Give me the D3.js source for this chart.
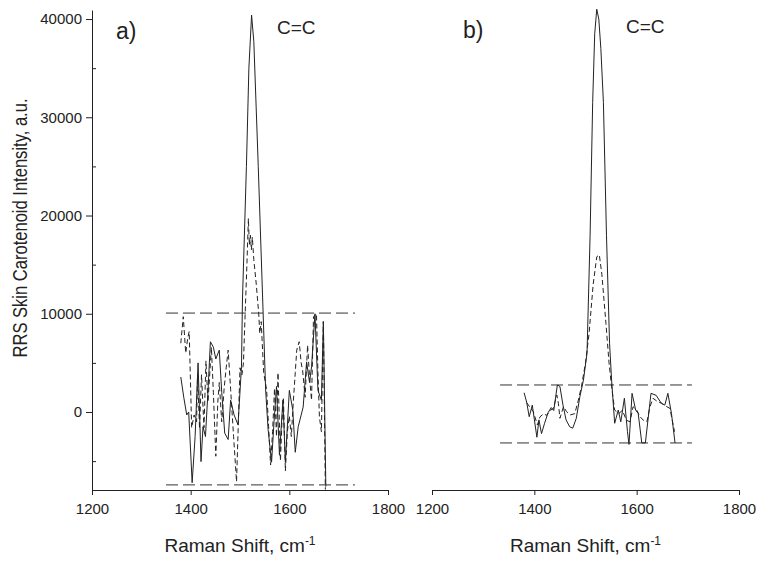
<!DOCTYPE html>
<html><head><meta charset="utf-8">
<script src="https://cdn.jsdelivr.net/npm/d3@7"></script>
<style>body{margin:0;background:#fff}svg{display:block}text{font-family:"Liberation Sans",Arial,sans-serif;fill:#222}</style>
</head><body><svg id="c" width="764" height="564"></svg>
<script>
// ---- data (Raman shift cm-1, intensity a.u.) ----
const xTicks = [1200, 1400, 1600, 1800];
const yTicks = [0, 10000, 20000, 30000, 40000];
const yMinorTicks = [-5000, 5000, 15000, 25000, 35000];
const panelLabels = ["a)", "b)"];
const peakLabel = "C=C";

const aSolid = [[1380,3560],[1386,1500],[1392,-300],[1396,0],[1403,-7200],[1409,-2500],[1415,5000],[1421,-5050],[1425,-1490],[1430,-2500],[1435,2000],[1440,7150],[1446,6600],[1451,5400],[1458,6300],[1463,2000],[1469,-2150],[1476,-2800],[1481,1200],[1488,-300],[1496,-1300],[1503,4600],[1505,11400],[1513,25000],[1518,35000],[1523.5,40400],[1528,37700],[1537,25000],[1546,11400],[1552,2240],[1557,-1800],[1564,-5100],[1569,-1000],[1574,2600],[1580,-4400],[1587,1200],[1592,-5100],[1600,2200],[1607,200],[1612,-4100],[1618,-1500],[1628,500],[1635,5100],[1641,3000],[1645,4600],[1652,10000],[1658,2200],[1665,1200],[1669,9200],[1674,-7600]];
const aDashed = [[1380,7000],[1385,9700],[1390,6000],[1394,7500],[1397,8200],[1402,-1600],[1407,-300],[1412,-1000],[1414,3800],[1418,-1700],[1422,3800],[1427,-1600],[1431,5200],[1435,1000],[1437,2500],[1442,6600],[1446,2000],[1451,-4500],[1455,1000],[1458,3000],[1463,-1000],[1468,2500],[1472,4500],[1476,6300],[1481,2300],[1487,-2500],[1493,-7100],[1500,4500],[1504,3800],[1507,5000],[1510,9350],[1514,15000],[1517,19700],[1519,17000],[1521,18000],[1523,16500],[1525,17800],[1528,15500],[1533,13000],[1538,10000],[1540,8000],[1543,9200],[1548,4000],[1554,2240],[1558,-1500],[1562,-5400],[1566,-2000],[1570,2400],[1574,-2500],[1577,4000],[1582,-5000],[1585,-1000],[1588,1500],[1592,-6000],[1596,-2000],[1600,-400],[1604,-2500],[1608,1000],[1612,4000],[1615,6300],[1620,7150],[1624,5000],[1627,4200],[1632,1500],[1637,6800],[1641,3500],[1645,1200],[1649,9700],[1655,10000],[1658,4000],[1661,-500],[1665,-2000],[1669,9200],[1673,-7900]];
const bSolid = [[1380,1960],[1385,1000],[1390,-480],[1396,700],[1405,-2570],[1409,-800],[1414,-2200],[1420,-1150],[1427,-50],[1433,450],[1438,150],[1445,2750],[1450,2600],[1456,700],[1462,-800],[1469,-1500],[1475,-1650],[1482,-650],[1489,1560],[1496,3250],[1503,6000],[1509,18000],[1514,31500],[1518,38500],[1522,41000],[1526,40000],[1530,37000],[1535,31500],[1541,18000],[1547,7000],[1551,3250],[1557,-1150],[1564,200],[1569,-1000],[1576,1400],[1582,-2000],[1585,-3300],[1591,1900],[1598,200],[1603,-150],[1610,-3150],[1617,-3150],[1628,1900],[1638,1700],[1648,900],[1655,700],[1661,1900],[1668,-150],[1675,-3150]];
const bDashed = [[1385,950],[1398,30],[1406,-1320],[1411,-500],[1418,-170],[1424,-340],[1431,170],[1437,340],[1444,1730],[1447,880],[1450,-640],[1457,540],[1463,30],[1470,-300],[1479,-170],[1486,1200],[1492,2575],[1500,5000],[1507,8000],[1515,13000],[1522,15800],[1527,16000],[1532,14000],[1540,9000],[1546,5000],[1551,2575],[1557,200],[1565,-170],[1572,170],[1580,-840],[1587,-1000],[1593,540],[1600,200],[1607,-500],[1613,-840],[1620,-1000],[1626,540],[1632,1390],[1641,1050],[1649,880],[1659,540],[1665,370],[1674,-2000]];
// horizontal reference (noise band) lines: [xStart, xEnd, y]
const aBands = [[1350,1733,10070],[1350,1733,-7420]];
const bBands = [[1333,1708,2750],[1333,1708,-3150]];

// ---- drawing ----
const svg = d3.select("#c");
const y = d3.scaleLinear().domain([-7940, 40920]).range([490, 10]);
const panels = [
  {x0:92, x1:388, solid:aSolid, dashed:aDashed, bands:aBands, label:panelLabels[0], lx:116, ly:39, cx:277, cy:34, yaxis:true},
  {x0:432, x1:739, solid:bSolid, dashed:bDashed, bands:bBands, label:panelLabels[1], lx:463, ly:38, cx:626, cy:33, yaxis:false}
];
const ink = "#222";
panels.forEach(p => {
  const x = d3.scaleLinear().domain([1200,1800]).range([p.x0,p.x1]);
  const g = svg.append("g");
  const xa = g.append("g").attr("transform","translate(0,490)")
    .call(d3.axisBottom(x).tickValues(xTicks).tickFormat(d3.format("d")).tickSize(5).tickSizeOuter(0).tickPadding(8));
  xa.selectAll("text").style("font-size","15px").attr("fill",ink);
  xa.selectAll("line,path").attr("stroke",ink);
  if (p.yaxis) {
    const ya = g.append("g").attr("transform",`translate(${p.x0},0)`)
      .call(d3.axisLeft(y).tickValues(yTicks).tickFormat(d3.format("d")).tickSize(6).tickSizeOuter(0).tickPadding(4));
    ya.selectAll("text").style("font-size","15px").attr("fill",ink);
    ya.selectAll("line,path").attr("stroke",ink);
    const ym = g.append("g").attr("transform",`translate(${p.x0},0)`)
      .call(d3.axisRight(y).tickValues(yMinorTicks).tickFormat("").tickSize(4).tickSizeOuter(0));
    ym.select("path").remove();
    ym.selectAll("line").attr("stroke",ink);
  }
  const line = d3.line().x(d=>x(d[0])).y(d=>y(d[1]));
  g.selectAll("line.band").data(p.bands).enter().append("line")
    .attr("x1",d=>x(d[0])).attr("x2",d=>x(d[1])).attr("y1",d=>y(d[2])).attr("y2",d=>y(d[2]))
    .attr("stroke","#333").attr("stroke-width",1).attr("stroke-dasharray","12,5");
  g.append("path").datum(p.dashed).attr("d",line).attr("fill","none").attr("stroke",ink).attr("stroke-width",1).attr("stroke-dasharray","5,3");
  g.append("path").datum(p.solid).attr("d",line).attr("fill","none").attr("stroke",ink).attr("stroke-width",1);
  g.append("text").attr("x",p.lx).attr("y",p.ly).style("font-size","23px").text(p.label);
  g.append("text").attr("x",p.cx).attr("y",p.cy).style("font-size","19px").text(peakLabel);
  const t = g.append("text").attr("x",(p.x0+p.x1)/2).attr("y",552).attr("text-anchor","middle").style("font-size","19px");
  t.append("tspan").text("Raman Shift, cm");
  t.append("tspan").attr("dy","-7").style("font-size","12px").text("-1");
});
svg.append("text").attr("transform","translate(27,228) rotate(-90)").attr("text-anchor","middle")
  .attr("textLength",259).attr("lengthAdjust","spacingAndGlyphs")
  .style("font-size","19.5px").text("RRS Skin Carotenoid Intensity, a.u.");
</script></body></html>
